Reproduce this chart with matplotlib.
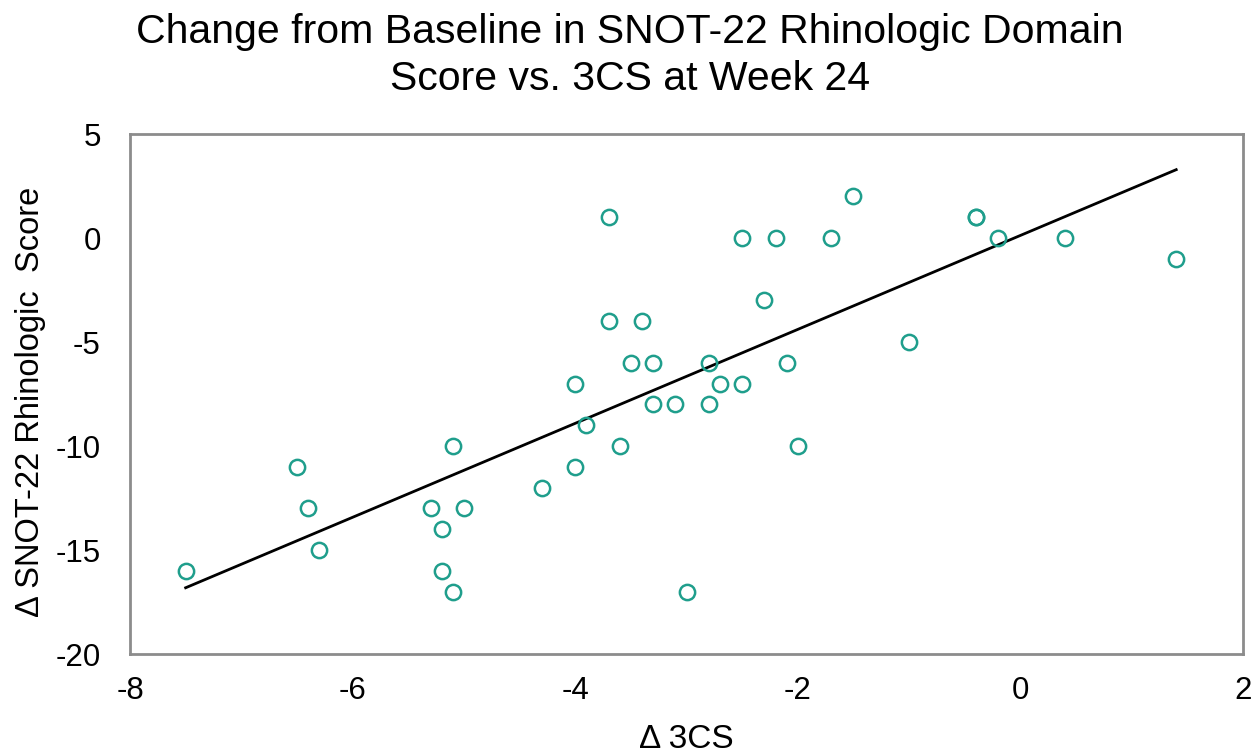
import matplotlib
matplotlib.use("Agg")
import matplotlib.pyplot as plt
import numpy as np

plt.rcParams['font.family'] = ['Liberation Sans', 'DejaVu Sans']
plt.rcParams['axes.unicode_minus'] = False

x_3cs = [-7.5, -6.5, -6.4, -6.3, -5.3, -5.2, -5.2, -5.1, -5.1, -5.0,
         -4.3, -4.0, -4.0, -3.9, -3.7, -3.7, -3.6, -3.5, -3.4, -3.3,
         -3.3, -3.1, -3.0, -2.8, -2.8, -2.7, -2.5, -2.5, -2.3, -2.2,
         -2.1, -2.0, -1.7, -1.5, -1.0, -0.4, -0.4, -0.2, 0.4, 1.4]
y_snot = [-16, -11, -13, -15, -13, -14, -16, -10, -17, -13,
          -12, -7, -11, -9, 1, -4, -10, -6, -4, -6,
          -8, -8, -17, -6, -8, -7, 0, -7, -3, 0,
          -6, -10, 0, 2, -5, 1, 1, 0, 0, -1]

xticks = [-8, -6, -4, -2, 0, 2]
yticks = [5, 0, -5, -10, -15, -20]

W, H = 1253, 756
fig = plt.figure(figsize=(W / 100, H / 100), dpi=100)
ax = fig.add_axes([130 / W, 1 - 654 / H, 1113 / W, 520 / H])

ax.plot(x_3cs, y_snot, linestyle='none', marker='o', markersize=11,
        markerfacecolor='none', markeredgecolor='#1f9e8c', markeredgewidth=1.8, zorder=3)

coef = np.polyfit(x_3cs, y_snot, 1)
xl = np.array([min(x_3cs), max(x_3cs)])
ax.plot(xl, np.polyval(coef, xl), color='black', linewidth=2, zorder=2)

ax.set_xlim(-8, 2)
ax.set_ylim(-20, 5)
ax.set_xticks(xticks)
ax.set_yticks(yticks)
ax.tick_params(length=0, labelsize=22.5, colors='black')
ax.tick_params(axis='x', pad=16)
ax.tick_params(axis='y', pad=21)
for s in ax.spines.values():
    s.set_color('#8c8c8c')
    s.set_linewidth(2)

fig.text(686 / W, 1 - 740 / H, 'Δ 3CS', fontsize=24, ha='center', va='center')
fig.text(31 / W, 1 - 402 / H, 'Δ SNOT-22 Rhinologic  Score', fontsize=23.5,
         ha='center', va='center', rotation=90)
fig.text(630 / W, 1 - 32 / H, 'Change from Baseline in SNOT-22 Rhinologic Domain',
         fontsize=29.5, ha='center', va='center')
fig.text(630 / W, 1 - 79 / H, 'Score vs. 3CS at Week 24',
         fontsize=29.5, ha='center', va='center')

fig.savefig('out.png', dpi=100)
